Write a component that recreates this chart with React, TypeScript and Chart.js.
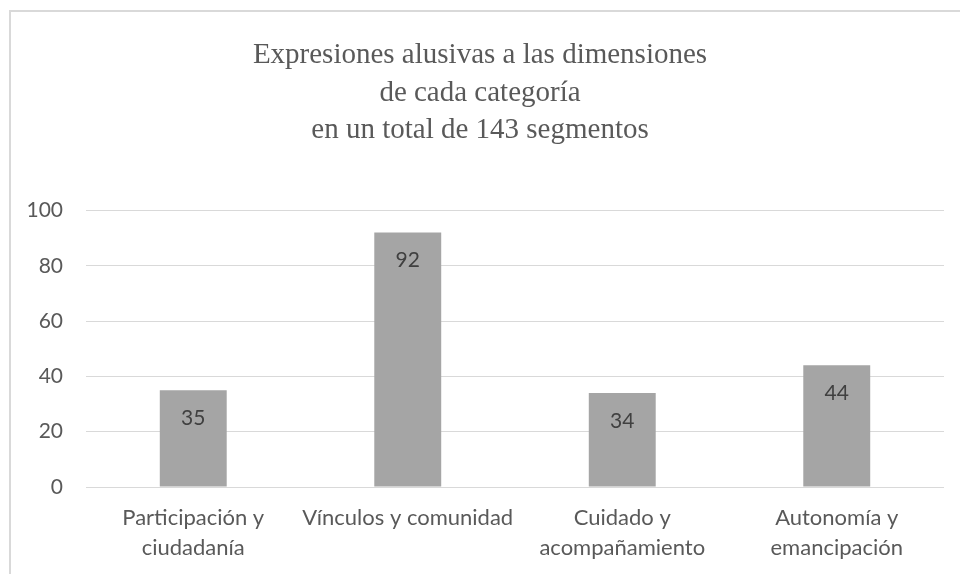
import React, { useEffect, useRef } from "react";
import { Chart, registerables } from "chart.js";

Chart.register(...registerables);

const titleLines = [
  "Expresiones alusivas a las dimensiones",
  "de cada categoría",
  "en un total de 143 segmentos",
];
const categories: string[][] = [
  ["Participación y", "ciudadanía"],
  ["Vínculos y comunidad"],
  ["Cuidado y", "acompañamiento"],
  ["Autonomía y", "emancipación"],
];
const values = [35, 92, 34, 44];
const yMin = 0;
const yMax = 100;
const yStep = 20;

const SANS = "Lato, 'Open Sans', sans-serif";

const framePlugin = {
  id: "frame",
  beforeDraw(chart: any) {
    const ctx = chart.ctx;
    ctx.save();
    ctx.fillStyle = "#ffffff";
    ctx.fillRect(0, 0, chart.width, chart.height);
    ctx.strokeStyle = "#d9d9d9";
    ctx.lineWidth = 2;
    ctx.strokeRect(10, 11, chart.width + 100, chart.height + 100);
    ctx.restore();
  },
};

const labelPlugin = {
  id: "barLabels",
  afterDatasetsDraw(chart: any) {
    const ctx = chart.ctx;
    const meta = chart.getDatasetMeta(0);
    ctx.save();
    ctx.fillStyle = "#404040";
    ctx.font = `21px ${SANS}`;
    ctx.textAlign = "center";
    ctx.textBaseline = "middle";
    meta.data.forEach((bar: any, i: number) => {
      ctx.fillText(String(values[i]), bar.x, bar.y + 28);
    });
    ctx.restore();
  },
};

export default function App() {
  const ref = useRef<HTMLCanvasElement | null>(null);
  useEffect(() => {
    if (!ref.current) return;
    const chart = new Chart(ref.current, {
      type: "bar",
      data: {
        labels: categories,
        datasets: [
          {
            data: values,
            backgroundColor: "#a5a5a5",
            borderWidth: 0,
            categoryPercentage: 1,
            barPercentage: 0.312,
          },
        ],
      },
      options: {
        responsive: false,
        animation: false,
        layout: { padding: { left: 16, right: 16, top: 0, bottom: 0 } },
        plugins: {
          legend: { display: false },
          tooltip: { enabled: false },
          title: {
            display: true,
            text: titleLines,
            color: "#595959",
            font: { family: "'Liberation Serif', serif", size: 29, weight: "normal", lineHeight: "37.5px" },
            padding: { top: 37, bottom: 61 },
          },
        },
        scales: {
          x: {
            grid: { display: false, drawTicks: false },
            border: { display: false },
            ticks: {
              color: "#595959",
              font: { family: SANS, size: 22, lineHeight: "30px" },
              padding: 16,
              maxRotation: 0,
              autoSkip: false,
            },
            afterFit(scale: any) {
              scale.height = 87;
            },
          },
          y: {
            min: yMin,
            max: yMax,
            grid: { color: "#d9d9d9", lineWidth: 1, drawTicks: false },
            border: { display: false },
            ticks: {
              stepSize: yStep,
              color: "#595959",
              font: { family: SANS, size: 21 },
              padding: 23,
            },
            afterFit(scale: any) {
              scale.width = 70;
            },
          },
        },
      },
      plugins: [framePlugin, labelPlugin],
    });
    return () => chart.destroy();
  }, []);
  return (
    <div style={{ position: "absolute", left: 0, top: 0, width: 960, height: 574 }}>
      <canvas ref={ref} width={960} height={574} style={{ display: "block" }} />
    </div>
  );
}
